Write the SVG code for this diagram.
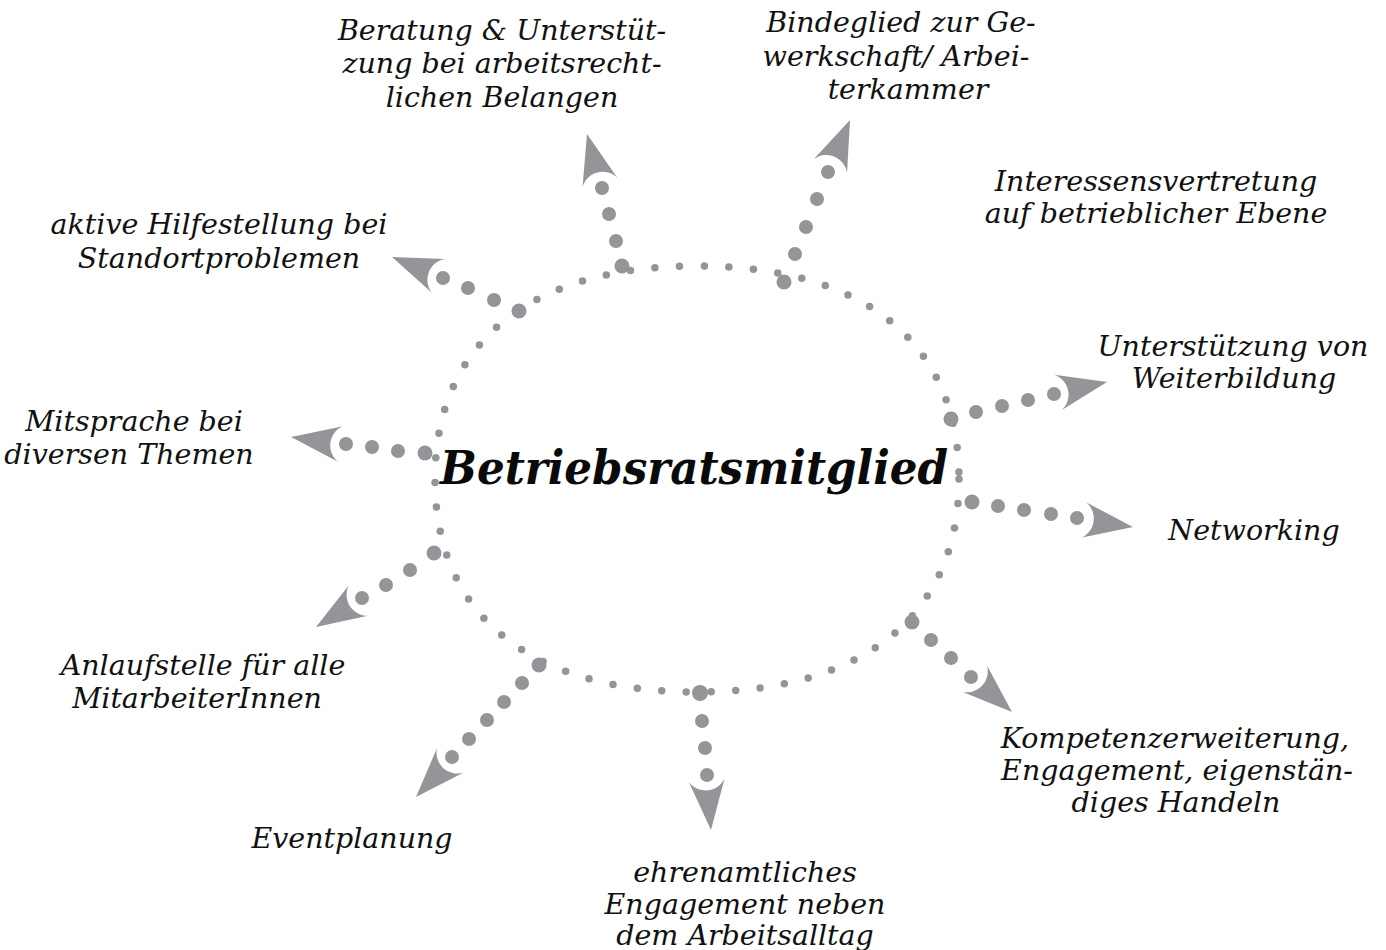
<svg xmlns="http://www.w3.org/2000/svg" xmlns:xlink="http://www.w3.org/1999/xlink" width="1386" height="950" viewBox="0 0 1386 950">
<style>
.lbl{font-family:"DejaVu Serif","Liberation Serif",serif;font-style:italic;font-size:28.5px;fill:#111;text-anchor:middle}
.title{font-family:"DejaVu Serif","Liberation Serif",serif;font-style:italic;font-weight:bold;font-size:46px;fill:#0a0a0a;text-anchor:middle}
.ring{fill:none;stroke:#939598;stroke-width:7.5;stroke-linecap:round;stroke-dasharray:0 24.6}
.d{fill:#939598}
.ah{fill:#939598}
</style>
<defs>
<path id="ah" d="M0,0 L-50,-18 A21 21 0 0 1 -50,18 Z"/>
</defs>
<rect width="1386" height="950" fill="#fff"/>
<g id="center">
<path class="ring" d="M959,479 C959,615 864,692 697,692 C530,692 435,615 435,479 C435,343 530,266 697,266 C864,266 959,343 959,479 Z"/>
<text class="title" x="694" y="484" textLength="508" lengthAdjust="spacingAndGlyphs">Betriebsratsmitglied</text>
</g>
<g id="connectors">
<g id="spoke-beratung">
<circle class="d" cx="622" cy="266" r="7.5"/><circle class="d" cx="616" cy="241" r="7"/><circle class="d" cx="609" cy="214" r="7"/><circle class="d" cx="602" cy="188" r="7"/>
<use xlink:href="#ah" class="ah" transform="translate(587,134) rotate(-105)"/>
</g>
<g id="spoke-bindeglied">
<circle class="d" cx="784" cy="282" r="7.5"/><circle class="d" cx="795" cy="254" r="7"/><circle class="d" cx="806" cy="227" r="7"/><circle class="d" cx="817" cy="199" r="7"/><circle class="d" cx="828" cy="172" r="7"/>
<use xlink:href="#ah" class="ah" transform="translate(850,120) rotate(-67)"/>
</g>
<g id="spoke-weiterbildung">
<circle class="d" cx="951" cy="419" r="7.5"/><circle class="d" cx="976" cy="412" r="7"/><circle class="d" cx="1002" cy="406" r="7"/><circle class="d" cx="1028" cy="400" r="7"/><circle class="d" cx="1054" cy="394" r="7"/>
<use xlink:href="#ah" class="ah" transform="translate(1107,382) rotate(-12)"/>
</g>
<g id="spoke-networking">
<circle class="d" cx="972" cy="502" r="7.5"/><circle class="d" cx="998" cy="506" r="7"/><circle class="d" cx="1024" cy="510" r="7"/><circle class="d" cx="1051" cy="514" r="7"/><circle class="d" cx="1077" cy="518" r="7"/>
<use xlink:href="#ah" class="ah" transform="translate(1133,527) rotate(8)"/>
</g>
<g id="spoke-kompetenz">
<circle class="d" cx="912" cy="622" r="7.5"/><circle class="d" cx="931" cy="640" r="7"/><circle class="d" cx="951" cy="658" r="7"/><circle class="d" cx="971" cy="677" r="7"/>
<use xlink:href="#ah" class="ah" transform="translate(1012,712) rotate(42)"/>
</g>
<g id="spoke-ehrenamt">
<circle class="d" cx="700" cy="693" r="8"/><circle class="d" cx="702" cy="721" r="7"/><circle class="d" cx="705" cy="748" r="7"/><circle class="d" cx="707" cy="775" r="7"/>
<use xlink:href="#ah" class="ah" transform="translate(711,830) rotate(85)"/>
</g>
<g id="spoke-event">
<circle class="d" cx="539" cy="665" r="7.5"/><circle class="d" cx="522" cy="683" r="7"/><circle class="d" cx="504" cy="702" r="7"/><circle class="d" cx="487" cy="720" r="7"/><circle class="d" cx="469" cy="739" r="7"/><circle class="d" cx="452" cy="757" r="7"/>
<use xlink:href="#ah" class="ah" transform="translate(416,797) rotate(133)"/>
</g>
<g id="spoke-anlauf">
<circle class="d" cx="434" cy="553" r="7.5"/><circle class="d" cx="410" cy="570" r="7"/><circle class="d" cx="386" cy="585" r="7"/><circle class="d" cx="362" cy="598" r="7"/>
<use xlink:href="#ah" class="ah" transform="translate(316,627) rotate(148)"/>
</g>
<g id="spoke-mitsprache">
<circle class="d" cx="425" cy="453" r="7.5"/><circle class="d" cx="398" cy="451" r="7"/><circle class="d" cx="372" cy="447" r="7"/><circle class="d" cx="346" cy="444" r="7"/>
<use xlink:href="#ah" class="ah" transform="translate(291,437) rotate(188)"/>
</g>
<g id="spoke-hilfe">
<circle class="d" cx="519" cy="311" r="7.5"/><circle class="d" cx="494" cy="300" r="7"/><circle class="d" cx="468" cy="288" r="7"/><circle class="d" cx="443" cy="278" r="7"/>
<use xlink:href="#ah" class="ah" transform="translate(392,257) rotate(202)"/>
</g>
</g>
<g id="n-beratung"><text class="lbl"><tspan x="502" y="40">Beratung &amp; Unterstüt-</tspan><tspan x="502" y="73">zung bei arbeitsrecht-</tspan><tspan x="502" y="107">lichen Belangen</tspan></text></g>
<g id="n-bindeglied"><text class="lbl"><tspan x="901" y="32">Bindeglied zur Ge-</tspan><tspan x="896" y="66">werkschaft/ Arbei-</tspan><tspan x="908" y="99">terkammer</tspan></text></g>
<g id="n-interessen"><text class="lbl"><tspan x="1156" y="191">Interessensvertretung</tspan><tspan x="1156" y="223">auf betrieblicher Ebene</tspan></text></g>
<g id="n-weiterbildung"><text class="lbl"><tspan x="1233" y="356">Unterstützung von</tspan><tspan x="1234" y="388">Weiterbildung</tspan></text></g>
<g id="n-networking"><text class="lbl" x="1254" y="540">Networking</text></g>
<g id="n-kompetenz"><text class="lbl"><tspan x="1175" y="748">Kompetenzerweiterung,</tspan><tspan x="1177" y="780">Engagement, eigenstän-</tspan><tspan x="1176" y="812">diges Handeln</tspan></text></g>
<g id="n-ehrenamt"><text class="lbl"><tspan x="745" y="882">ehrenamtliches</tspan><tspan x="745" y="914">Engagement neben</tspan><tspan x="745" y="945">dem Arbeitsalltag</tspan></text></g>
<g id="n-event"><text class="lbl" x="352" y="848">Eventplanung</text></g>
<g id="n-anlauf"><text class="lbl"><tspan x="203" y="675">Anlaufstelle für alle</tspan><tspan x="197" y="708">MitarbeiterInnen</tspan></text></g>
<g id="n-mitsprache"><text class="lbl"><tspan x="134" y="431">Mitsprache bei</tspan><tspan x="129" y="464">diversen Themen</tspan></text></g>
<g id="n-hilfe"><text class="lbl"><tspan x="219" y="234">aktive Hilfestellung bei</tspan><tspan x="219" y="268">Standortproblemen</tspan></text></g>
</svg>
